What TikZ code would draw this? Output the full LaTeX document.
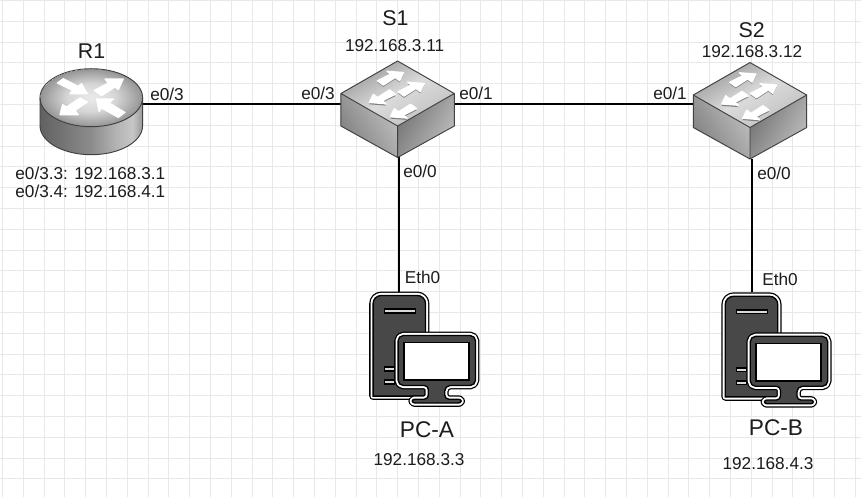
\documentclass[tikz,border=0pt]{standalone}
\usepackage{fontspec}
\setmainfont{Liberation Sans}

\definecolor{gridgray}{HTML}{E8E8E8}
\definecolor{towergray}{HTML}{484848}
\definecolor{labelgray}{HTML}{1C1C1C}
\pgfdeclarehorizontalshading{routerside}{100bp}{color(0bp)=(black!62); color(25bp)=(black!62); color(50bp)=(black!45); color(62bp)=(black!30); color(70bp)=(black!22); color(75bp)=(black!40); color(100bp)=(black!58)}
\pgfdeclareradialshading{routertop}{\pgfpoint{0bp}{0bp}}{color(0bp)=(black!8); color(12bp)=(black!16); color(25bp)=(black!42)}

\tikzset{
	gridline/.style={gridgray, line width=0.7pt},
	link/.style={black, line width=1.5pt},
	devbox/.style={inner sep=0pt, outer sep=0pt},
	hostlabel/.style={labelgray, font=\fontsize{16}{18}\selectfont, inner sep=0pt},
	pclabel/.style={labelgray, font=\fontsize{17}{18}\selectfont, inner sep=0pt},
	iplabel/.style={labelgray, font=\fontsize{12.9}{13.5}\selectfont, inner sep=0pt},
	portlabel/.style={labelgray, font=\fontsize{12.9}{14}\selectfont, inner sep=0pt},
	whitearrow/.style={fill=white, draw=white, line width=0.9pt, line join=round},
	shadowarrow/.style={fill=black!50, draw=none},
	pics/swarrow/.style={code={
		\fill[shadowarrow, shift={(0,1.6)}] (-20.3,-12.7) -- (-7.3,-19.3) -- (-10.7,-22.3) -- (6,-21) -- (2,-12.7) -- (-2.3,-16) -- (-14.3,-8.3) -- cycle;
		\filldraw[whitearrow] (-20.3,-12.7) -- (-7.3,-19.3) -- (-10.7,-22.3) -- (6,-21) -- (2,-12.7) -- (-2.3,-16) -- (-14.3,-8.3) -- cycle;
	}},
	pics/switchicon/.style={code={
		\shade[left color=black!25, right color=black!50, shading angle=-60] (-56.7,0) -- (0,32.5) -- (0,64) -- (-56.7,32.5) -- cycle;
		\shade[left color=black!55, right color=black!25, shading angle=60] (0,32.5) -- (56.7,0) -- (56.7,32.5) -- (0,64) -- cycle;
		\shade[left color=black!40, right color=black!25, middle color=black!14, shading angle=30] (-56.7,0) -- (0,-32.5) -- (56.7,0) -- (0,32.5) -- cycle;
		\draw[black!75, line width=0.7pt, line join=round] (-56.7,0) -- (0,-32.5) -- (56.7,0) -- (56.7,32.5) -- (0,64) -- (-56.7,32.5) -- cycle (-56.7,0) -- (0,32.5) -- (56.7,0) (0,32.5) -- (0,64);
		\pic at (0,0) {swarrow};
		\pic[shift={(20.7,11)}] at (0,0) {swarrow};
		\fill[shadowarrow, shift={(0,1.8)}] (-28.3,9) -- (-24.3,0.7) -- (-20,4) -- (-8,-3.7) -- (-2,0.7) -- (-15,7.3) -- (-11.6,10.3) -- cycle;
		\filldraw[whitearrow] (-28.3,9) -- (-24.3,0.7) -- (-20,4) -- (-8,-3.7) -- (-2,0.7) -- (-15,7.3) -- (-11.6,10.3) -- cycle;
		\fill[shadowarrow, shift={(21,14.3)}, shift={(0,1.8)}] (-28.3,9) -- (-24.3,0.7) -- (-20,4) -- (-8,-3.7) -- (-2,0.7) -- (-15,7.3) -- (-11.6,10.3) -- cycle;
		\filldraw[whitearrow, shift={(21,14.3)}] (-28.3,9) -- (-24.3,0.7) -- (-20,4) -- (-8,-3.7) -- (-2,0.7) -- (-15,7.3) -- (-11.6,10.3) -- cycle;
	}},
	pics/routericon/.style={code={
		\shade[shading=routerside] (-51.3,0) -- (-51.3,28) arc[start angle=180, end angle=0, x radius=51.3, y radius=29] -- (51.3,0) -- cycle;
		\shade[shading=routertop] (0,0) ellipse [x radius=51.3, y radius=29];
		\draw[black!75, line width=0.7pt] (0,0) ellipse [x radius=51.3, y radius=29];
		\draw[black!75, line width=0.7pt] (-51.3,0) -- (-51.3,28) arc[start angle=180, end angle=0, x radius=51.3, y radius=29] -- (51.3,0);
		\filldraw[whitearrow] (-34,-14.7) -- (-28,-19) -- (-13,-11.3) -- (-9.7,-14) -- (-4,-4) -- (-21.3,-4) -- (-18.7,-7.3) -- cycle;
		\filldraw[whitearrow] (3,-7.3) -- (17,-14.7) -- (13.7,-18.7) -- (32,-18.7) -- (27,-8) -- (23.7,-10.7) -- (10.3,-2) -- cycle;
		\filldraw[whitearrow] (-31.3,17) -- (-28.7,7) -- (-24.7,9.3) -- (-11.3,0.3) -- (-4,4.3) -- (-16.3,12.7) -- (-13,17) -- cycle;
		\filldraw[whitearrow] (5.3,1.3) -- (22,1.3) -- (18,5.3) -- (33.7,14.7) -- (27,19.7) -- (10.3,10.3) -- (7.7,13.7) -- cycle;
	}},
	pics/pcicon/.style={code={
		% tower
		\foreach \ringcol/\ringw in {black/5.8pt, white/3.9pt}
			\draw[\ringcol, line width=\ringw, line join=round] (-26.2,104.4) [rounded corners=6] -- (-26.2,3.8) -- (26.2,3.8) [sharp corners] -- (26.2,104.4) -- cycle;
		\draw[black, fill=towergray, line width=1pt] (-26.2,104.4) [rounded corners=6] -- (-26.2,3.8) -- (26.2,3.8) [sharp corners] -- (26.2,104.4) -- cycle;
		\draw[black, fill=white!85!black, line width=1.2pt] (-15,17.5) rectangle (16,21);
		\draw[black, fill=white!85!black, line width=1.2pt] (-15,75.5) rectangle (-5,79);
		\draw[black, fill=white!85!black, line width=1.2pt] (-15,88.5) rectangle (-5,92);
		% monitor
		\foreach \ringcol/\ringw in {black/5.8pt, white/3.9pt}
			\draw[\ringcol, line width=\ringw, line join=round, rounded corners=4] (-1.2,43.8) -- (76.2,43.8) -- (76.2,93.8) -- (45.5,93.8) [rounded corners=3] -- (45.5,107.5) [rounded corners=1.7] -- (61.8,107.5) -- (61.8,111.3) -- (13,111.3) -- (13,107.5) [rounded corners=3] -- (29,107.5) -- (29,93.8) [rounded corners=4] -- (-1.2,93.8) -- cycle;
		\draw[black, fill=towergray, line width=1pt, line join=round, rounded corners=4] (-1.2,43.8) -- (76.2,43.8) -- (76.2,93.8) -- (45.5,93.8) [rounded corners=3] -- (45.5,107.5) [rounded corners=1.7] -- (61.8,107.5) -- (61.8,111.3) -- (13,111.3) -- (13,107.5) [rounded corners=3] -- (29,107.5) -- (29,93.8) [rounded corners=4] -- (-1.2,93.8) -- cycle;
		\draw[black, fill=white, line width=1.1pt] (4.7,51) rectangle (69.7,88.3);
	}}
}

\begin{document}
\begin{tikzpicture}[x=0.75pt, y=-0.75pt]
	\useasboundingbox[fill=white] (0,0) rectangle (861,497);

	% grid
	\foreach \gx in {0,...,41}
		\draw[gridline] ({2.5+20.8*\gx},0) -- ({2.5+20.8*\gx},497);
	\foreach \gy in {0,...,23}
		\draw[gridline] (0,{0.5+20.8*\gy}) -- (861,{0.5+20.8*\gy});

	% devices
	\node[devbox, minimum width=77pt, minimum height=75pt] (R1) at (91.3,104) {};
	\node[devbox, minimum width=85pt, minimum height=79.5pt] (S1) at (398.8,104) {};
	\node[devbox, minimum width=85pt, minimum height=82.5pt] (S2) at (751.7,104) {};
	\node[devbox, minimum width=60pt, minimum height=87pt] (PCA) at (398.8,350) {};
	\node[devbox, minimum width=60pt, minimum height=87pt] (PCB) at (751.7,350) {};

	\draw[link] (R1.east) -- (S1.west);
	\draw[link] (S1.east) -- (S2.west);
	\draw[link] (S1.south) -- (PCA.north);
	\draw[link] (S2.south) -- (PCB.north);

	\pic at (91.3,97.7) {routericon};
	\pic at (397.6,93.5) {switchicon};
	\pic at (750,95) {switchicon};
	\pic at (399.3,291.7) {pcicon};
	\pic at (751.5,292.5) {pcicon};

	% names
	\node[hostlabel] (R1name) at (91.5,51) {R1};
	\node[hostlabel] (S1name) at (395.5,18) {S1};
	\node[hostlabel] (S2name) at (751.7,30) {S2};
	\node[pclabel] (PCAname) at (427,429.5) {PC-A};
	\node[pclabel] (PCBname) at (776,428) {PC-B};

	% addresses
	\node[iplabel, align=left] (R1ip) at (90.3,182.5) {e0/3.3: 192.168.3.1\\e0/3.4: 192.168.4.1};
	\node[iplabel] (S1ip) at (394.6,45.5) {192.168.3.11};
	\node[iplabel] (S2ip) at (752,52) {192.168.3.12};
	\node[iplabel] (PCAip) at (419,460) {192.168.3.3};
	\node[iplabel] (PCBip) at (768,463.5) {192.168.4.3};

	% ports
	\node[portlabel] (R1port) at (167,94) {e0/3};
	\node[portlabel] (S1west) at (318,93) {e0/3};
	\node[portlabel] (S1east) at (476,93) {e0/1};
	\node[portlabel] (S2west) at (670,93) {e0/1};
	\node[portlabel] (S1south) at (420,171) {e0/0};
	\node[portlabel] (S2south) at (774,173) {e0/0};
	\node[portlabel] (PCAport) at (422.5,277) {Eth0};
	\node[portlabel] (PCBport) at (780,279) {Eth0};
\end{tikzpicture}
\end{document}
